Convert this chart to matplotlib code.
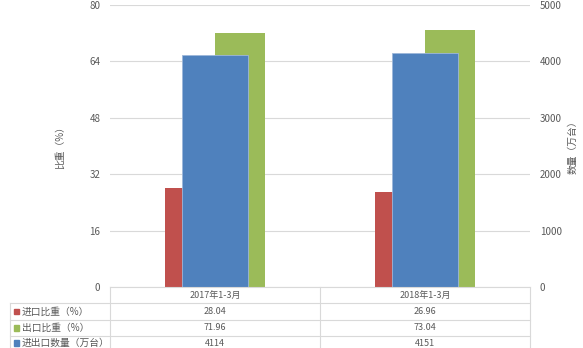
import matplotlib
matplotlib.use("Agg")
import matplotlib.pyplot as plt
import matplotlib.transforms as mtrans
from matplotlib.lines import Line2D
from matplotlib.patches import Rectangle

plt.rcParams['font.family'] = ['Noto Sans CJK SC', 'DejaVu Sans']

categories = ['2017年1-3月', '2018年1-3月']
import_share = [28.04, 26.96]
export_share = [71.96, 73.04]
quantity = [4114, 4151]
series_names = ['进口比重（%）', '出口比重（%）', '进出口数量（万台）']
left_ticks = [0, 16, 32, 48, 64, 80]
right_ticks = [0, 1000, 2000, 3000, 4000, 5000]

RED = '#C0504D'
GREEN = '#9BBB59'
BLUE = '#4F81BD'
TXT = '#595959'
GRID = '#D9D9D9'

W, H = 583, 348
fig = plt.figure(figsize=(W / 100, H / 100), dpi=100)

def fx(px):
    return px / W

def fy(py):
    return 1 - py / H

ax = fig.add_axes([fx(110), fy(287), fx(530) - fx(110), fy(5) - fy(287)])
ax2 = ax.twinx()

x = list(range(len(categories)))
bw = 0.238
ax.bar([i - bw / 2 for i in x], import_share, width=bw, color=RED, zorder=2)
ax.bar([i + bw / 2 for i in x], export_share, width=bw, color=GREEN, zorder=2)
ax2.bar(x, quantity, width=0.314, color=BLUE, edgecolor='#9DB7DA', linewidth=0.6, zorder=3)

ax.set_xlim(-0.5, 1.5)
ax.set_ylim(0, 80)
ax2.set_ylim(0, 5000)
ax.set_yticks(left_ticks)
ax2.set_yticks(right_ticks)
ax.yaxis.grid(True, color=GRID, linewidth=0.8)
ax.set_axisbelow(True)
ax.set_xticks([])
for a in (ax, ax2):
    for s in a.spines.values():
        s.set_visible(False)
    a.tick_params(axis='y', length=0, labelsize=7, colors=TXT)
ax.tick_params(axis='y', pad=7)
ax2.tick_params(axis='y', pad=7)

fig.text(fx(60), fy(145), '比重（%）', rotation=90, ha='center', va='center', fontsize=7, color=TXT)
fig.text(fx(573), fy(145), '数量（万台）', rotation=90, ha='center', va='center', fontsize=7, color=TXT)

# data table under the plot
trans = mtrans.blended_transform_factory(ax.transData, fig.transFigure)
lc = '#D9D9D9'
row_lines = [287, 303, 320, 336]
for i, py in enumerate(row_lines):
    x0 = 110 if i == 0 else 10
    fig.add_artist(Line2D([fx(x0), fx(530)], [fy(py), fy(py)], color=lc, linewidth=0.8))
fig.add_artist(Line2D([fx(10), fx(10)], [fy(303), fy(348)], color=lc, linewidth=0.8))
for px in (110, 320, 530):
    fig.add_artist(Line2D([fx(px), fx(px)], [fy(287), fy(348)], color=lc, linewidth=0.8))

row_centers = [311.5, 328, 343]
colors = [RED, GREEN, BLUE]
values = [import_share, export_share, quantity]
fmts = ['{:.2f}', '{:.2f}', '{:d}']
for i, cat in enumerate(categories):
    fig.text(i, fy(295), cat, transform=trans, ha='center', va='center', fontsize=6.5, color=TXT)
for r in range(3):
    yc = row_centers[r]
    fig.add_artist(Rectangle((fx(13.5), fy(yc + 2.8)), fx(5.5), 5.5 / H, color=colors[r]))
    fig.text(fx(22), fy(yc), series_names[r], ha='left', va='center', fontsize=7, color=TXT)
    for i in x:
        fig.text(i, fy(yc), fmts[r].format(values[r][i]), transform=trans, ha='center', va='center',
                 fontsize=6.5, color=TXT)

fig.savefig('out.png', dpi=100)
